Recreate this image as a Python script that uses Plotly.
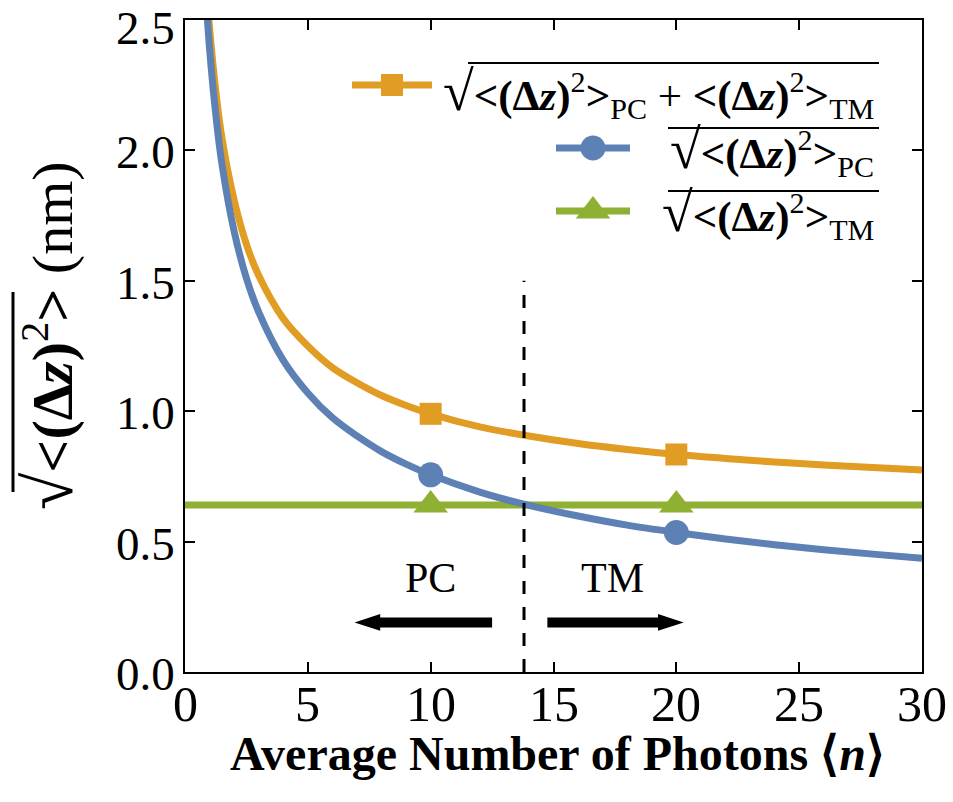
import plotly.graph_objects as go

# ---------------- data ----------------
n_pc = [0.9, 1, 1.25, 1.5, 2, 2.5, 3, 4, 5, 6, 7, 8, 9, 10, 12, 14, 16, 18, 20, 22, 24, 26, 28, 30]
dz_pc = [2.52, 2.39, 2.14, 1.95, 1.69, 1.51, 1.38, 1.195, 1.07, 0.975, 0.905, 0.845, 0.797, 0.756,
         0.69, 0.639, 0.598, 0.563, 0.535, 0.51, 0.488, 0.469, 0.452, 0.436]

n_tot = [0.95, 1, 1.25, 1.5, 2, 2.5, 3, 4, 5, 6, 7, 8, 9, 10, 12, 14, 16, 18, 20, 22, 24, 26, 28, 30]
dz_tot = [2.53, 2.47, 2.23, 2.05, 1.81, 1.64, 1.52, 1.355, 1.25, 1.167, 1.109, 1.06, 1.022, 0.99,
          0.94, 0.905, 0.876, 0.853, 0.834, 0.819, 0.805, 0.794, 0.784, 0.775]

n_tm = [0, 30]
dz_tm = [0.64, 0.64]

n_mark = [10, 20]
mark_tot = [0.99, 0.834]
mark_pc = [0.756, 0.535]
mark_tm = [0.64, 0.64]

crossover_n = 13.8
crossover_top = 1.5

arrow_y = 0.19
pc_arrow = (12.5, 6.9)    # tail, tip
tm_arrow = (14.75, 20.3)  # tail, tip
region_labels = ["PC", "TM"]
region_label_x = [10.0, 17.4]
region_label_y = 0.36

x_ticks = [0, 5, 10, 15, 20, 25, 30]
y_ticks = [0.0, 0.5, 1.0, 1.5, 2.0, 2.5]
y_range = [0, 2.5]

# ---------------- styles ----------------
ORANGE = "#E19C24"
BLUE = "#5E81B5"
GREEN = "#8FB032"
SERIF = "Liberation Serif, Times New Roman, serif"
LW = 7
HEAD_LEN = 1.0  # arrow head length in data units (shaft stops there)

W, H = 953, 802
ML, MR, MT, MB = 185, 31, 20, 130
PW, PH = W - ML - MR, H - MT - MB


def px(xp):
    return (xp - ML) / PW


def py(yp):
    return (H - MB - yp) / PH


fig = go.Figure()

# curves
fig.add_trace(go.Scatter(x=n_tm, y=dz_tm, mode="lines", line=dict(color=GREEN, width=LW), showlegend=False))
fig.add_trace(go.Scatter(x=n_tot, y=dz_tot, mode="lines", line=dict(color=ORANGE, width=LW, shape="spline"), showlegend=False))
fig.add_trace(go.Scatter(x=n_pc, y=dz_pc, mode="lines", line=dict(color=BLUE, width=LW, shape="spline"), showlegend=False))

# markers
fig.add_trace(go.Scatter(x=n_mark, y=mark_tot, mode="markers",
                         marker=dict(symbol="square", size=22, color=ORANGE), showlegend=False))
fig.add_trace(go.Scatter(x=n_mark, y=mark_pc, mode="markers",
                         marker=dict(symbol="circle", size=25, color=BLUE), showlegend=False))
fig.add_trace(go.Scatter(x=n_mark, y=mark_tm, mode="markers",
                         marker=dict(symbol="triangle-up", size=30, color=GREEN), showlegend=False))

# arrows (shaft + head marker)
for (tail, tip) in [pc_arrow, tm_arrow]:
    sgn = 1 if tip > tail else -1
    fig.add_trace(go.Scatter(x=[tail, tip - sgn * HEAD_LEN], y=[arrow_y, arrow_y], mode="lines",
                             line=dict(color="black", width=10), showlegend=False))
    fig.add_trace(go.Scatter(x=[tip], y=[arrow_y], mode="markers",
                             marker=dict(symbol="arrow", size=27, color="black",
                                         angle=90 if sgn > 0 else -90, line=dict(width=0)),
                             showlegend=False))

# dashed separator
fig.add_shape(type="line", x0=crossover_n, x1=crossover_n, y0=0, y1=crossover_top,
              xref="x", yref="y", line=dict(color="black", width=3, dash="13px,13px"))

# region labels
for lab, lx in zip(region_labels, region_label_x):
    fig.add_annotation(x=lx, y=region_label_y, xref="x", yref="y", text=lab, showarrow=False,
                       font=dict(family=SERIF, size=42, color="black"))

# ---------------- custom legend (overlay axis in unit coords) ----------------
BR = "<b>&lt;(Δ<i>z</i>)</b><sup>2</sup><b>&gt;</b>"
ROOT = "<span style='font-size:56px'>√</span>"
leg_items = [
    dict(color=ORANGE, symbol="square", size=22, x=(352, 432), y=85, ty=93, ol=(468, 879, 63),
         text=ROOT + BR + "<sub>PC</sub> + " + BR + "<sub>TM</sub>"),
    dict(color=BLUE, symbol="circle", size=25, x=(556, 630), y=148, ty=151, ol=(668, 879, 128),
         text=ROOT + BR + "<sub>PC</sub>"),
    dict(color=GREEN, symbol="triangle-up", size=30, x=(556, 630), y=211, ty=214, ol=(668, 879, 191),
         text=ROOT + BR + "<sub>TM</sub>"),
]
for it in leg_items:
    x0, x1 = px(it["x"][0]), px(it["x"][1])
    yy = py(it["y"])
    fig.add_trace(go.Scatter(x=[x0, x1], y=[yy, yy], mode="lines",
                             line=dict(color=it["color"], width=LW), xaxis="x2", yaxis="y2", showlegend=False))
    fig.add_trace(go.Scatter(x=[(x0 + x1) / 2], y=[yy], mode="markers",
                             marker=dict(symbol=it["symbol"], size=it["size"], color=it["color"]),
                             xaxis="x2", yaxis="y2", showlegend=False))
    fig.add_annotation(x=px(876), y=py(it["ty"]), xref="paper", yref="paper", xanchor="right", yanchor="middle",
                       text=it["text"], showarrow=False, font=dict(family=SERIF, size=43, color="black"))
    ox0, ox1, oy = it["ol"]
    fig.add_shape(type="line", xref="paper", yref="paper", x0=px(ox0), x1=px(ox1), y0=py(oy), y1=py(oy),
                  line=dict(color="black", width=2))

# y axis title
fig.add_annotation(x=px(49), y=py(336), xref="paper", yref="paper", textangle=-90, showarrow=False,
                   xanchor="center", yanchor="middle",
                   text="<span style='font-size:68px'>√</span>" + BR + " (nm)",
                   font=dict(family=SERIF, size=58, color="black"))
fig.add_shape(type="line", xref="paper", yref="paper", x0=px(13), x1=px(13), y0=py(292), y1=py(492),
              line=dict(color="black", width=3))

# x tick labels (placed as text at the tick values)
for v in x_ticks:
    fig.add_annotation(x=v, y=py(704), xref="x", yref="paper", showarrow=False,
                       xanchor="center", yanchor="middle", text=str(v),
                       font=dict(family=SERIF, size=50, color="black"))

# y tick labels (placed as text at the tick values)
for v in y_ticks:
    at_top = v >= y_range[1]
    fig.add_annotation(x=px(177), y=(1.0 + MT / PH) if at_top else v, xref="paper",
                       yref="paper" if at_top else "y", showarrow=False,
                       xanchor="right", yanchor="top" if at_top else "middle",
                       yshift=0 if at_top else -2, text=f"{v:.1f}",
                       font=dict(family=SERIF, size=47, color="black"))

# x axis title
fig.add_annotation(x=px(557), y=py(753), xref="paper", yref="paper", showarrow=False,
                   xanchor="center", yanchor="middle",
                   text="<b>Average Number of Photons ⟨<i>n</i>⟩</b>",
                   font=dict(family=SERIF, size=48, color="black"))

axis_common = dict(showline=True, linecolor="black", linewidth=2, mirror="ticks", ticks="inside",
                   ticklen=10, tickwidth=2, tickcolor="black", showgrid=False, zeroline=False,
                   automargin=False, showticklabels=False)

fig.update_layout(
    width=W, height=H,
    margin=dict(l=ML, r=MR, t=MT, b=MB, autoexpand=False),
    paper_bgcolor="white", plot_bgcolor="white",
    xaxis=dict(range=[0, 30], tickvals=x_ticks, **axis_common),
    yaxis=dict(range=y_range, tickvals=y_ticks, **axis_common),
    xaxis2=dict(overlaying="x", range=[0, 1], visible=False, anchor="y2"),
    yaxis2=dict(overlaying="y", range=[0, 1], visible=False, anchor="x2"),
    showlegend=False,
)

fig.write_html("out.html")
